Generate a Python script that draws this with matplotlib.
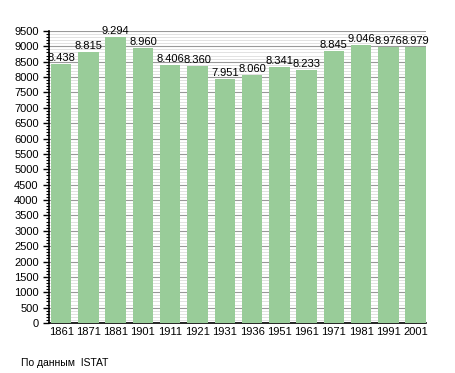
import matplotlib.pyplot as plt
from matplotlib.ticker import MultipleLocator

# Population by census year
years = ['1861', '1871', '1881', '1901', '1911', '1921', '1931',
         '1936', '1951', '1961', '1971', '1981', '1991', '2001']
population = [8438, 8815, 9294, 8960, 8406, 8360, 7951,
              8060, 8341, 8233, 8845, 9046, 8976, 8979]
labels = ['8.438', '8.815', '9.294', '8.960', '8.406', '8.360', '7.951',
          '8.060', '8.341', '8.233', '8.845', '9.046', '8.976', '8.979']

plt.rcParams['font.family'] = ['Liberation Sans', 'DejaVu Sans']

fig = plt.figure(figsize=(4.55, 3.73), dpi=100)
ax = fig.add_axes([0.108, 0.134, 0.828, 0.783])

x = range(len(years))
bars = ax.bar(x, population, width=0.75, color='#99cc99', zorder=3)

for i, (v, t) in enumerate(zip(population, labels)):
    ax.text(i, v + 30, t, ha='center', va='bottom', fontsize=8, zorder=4)

ax.set_xlim(-0.44, len(years) - 1 + 0.375)
ax.set_ylim(0, 9500)
ax.set_xticks(list(x))
ax.set_xticklabels(years, fontsize=8)
ax.yaxis.set_major_locator(MultipleLocator(500))
ax.yaxis.set_minor_locator(MultipleLocator(100))
ax.tick_params(axis='y', labelsize=8, length=4, width=1)
ax.tick_params(axis='y', which='minor', length=2, width=0.8)
ax.tick_params(axis='x', length=0, pad=3)

ax.grid(axis='y', which='major', color='#999999', linewidth=0.8, zorder=1)
ax.grid(axis='y', which='minor', color='#dddddd', linewidth=0.6, zorder=1)

for s in ['top', 'right']:
    ax.spines[s].set_visible(False)
ax.spines['left'].set_linewidth(1.2)
ax.spines['bottom'].set_linewidth(1.2)

fig.text(0.046, 0.02, 'По данным  ISTAT', fontsize=7.5)

plt.savefig('out.png', dpi=100)
